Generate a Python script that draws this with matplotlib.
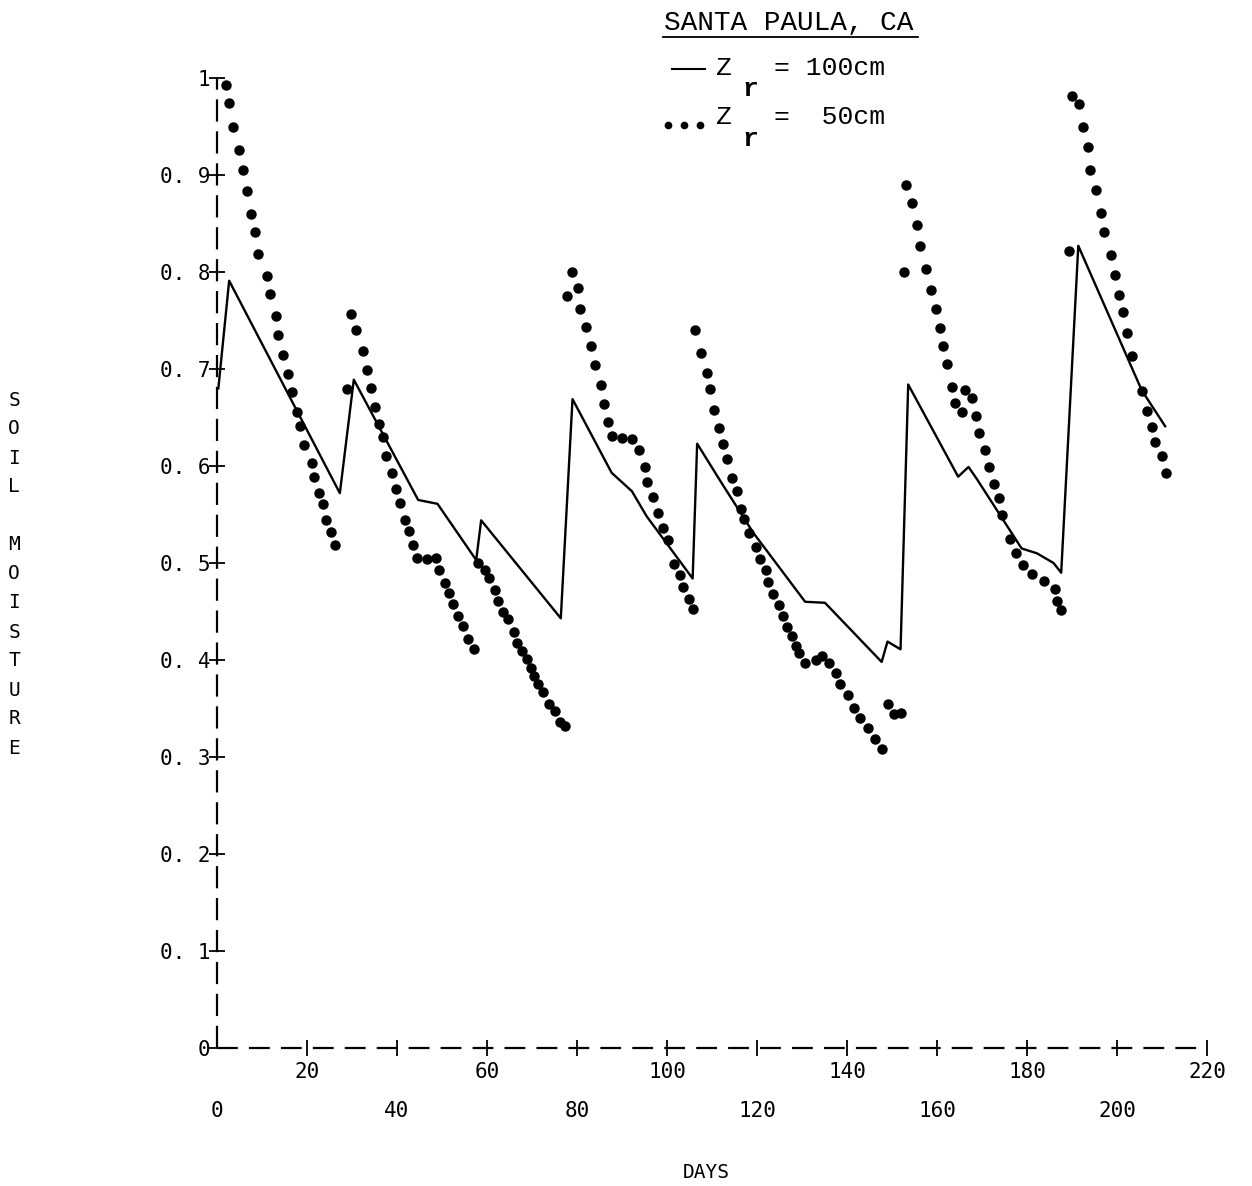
import matplotlib
matplotlib.use("Agg")
import matplotlib.pyplot as plt
from matplotlib.ticker import FixedLocator, FixedFormatter
from matplotlib.lines import Line2D

plt.rcParams['lines.scale_dashes'] = False

# ---------------- data ----------------
# Z_r = 100 cm (solid line)
days_100 = [0.3, 2.7, 27.3, 30.4, 44.7, 49.0, 57.6, 58.7, 76.4, 79.0, 87.7, 92.2,
            95.5, 105.7, 106.7, 112.2, 119.2, 130.7, 135.1, 147.7, 149.0, 151.9,
            153.6, 164.7, 167.0, 168.8, 178.8, 182.2, 185.9, 187.6, 191.4, 205.5, 210.7]
sm_100 = [0.680, 0.791, 0.572, 0.689, 0.565, 0.561, 0.503, 0.544, 0.443, 0.669, 0.593, 0.574,
          0.548, 0.484, 0.623, 0.582, 0.531, 0.460, 0.459, 0.398, 0.419, 0.411,
          0.684, 0.589, 0.599, 0.587, 0.515, 0.510, 0.500, 0.490, 0.827, 0.678, 0.641]

# Z_r = 50 cm (dots)
days_50 = [2.0, 2.7, 3.6, 4.9, 5.8, 6.7, 7.5, 8.5, 9.1, 11.0, 11.8, 13.0, 13.6, 14.7,
           15.8, 16.7, 17.7, 18.4, 19.4, 21.0, 21.6, 22.7, 23.6, 24.2, 25.3, 26.2,
           28.8, 29.8, 30.9, 32.5, 33.4, 34.2, 35.0, 36.0, 36.8, 37.5, 38.8, 39.7, 40.7,
           41.7, 42.6, 43.6, 44.4, 46.6, 48.6, 49.3, 50.7, 51.6, 52.5, 53.6, 54.7, 55.8, 57.1,
           58.1, 59.6, 60.5, 61.8, 62.4, 63.6, 64.7, 66.0, 66.7, 67.8, 68.8, 69.7, 70.4,
           71.3, 72.4, 73.8, 75.2, 76.2, 77.3,
           77.7, 78.8, 80.2, 80.7, 82.0, 83.1, 83.9, 85.3, 86.1, 86.8, 87.7, 89.9, 92.3,
           93.8, 95.0, 95.5, 96.8, 97.9, 99.2, 100.3, 101.6, 102.9, 103.6, 104.9, 105.8,
           106.2, 107.5, 108.8, 109.6, 110.4, 111.6, 112.4, 113.4, 114.5, 115.5, 116.4,
           117.1, 118.3, 119.8, 120.7, 121.9, 122.5, 123.6, 124.8, 125.8, 126.7, 127.8,
           128.6, 129.3, 130.7, 133.1, 134.4, 136.1, 137.6, 138.4, 140.2, 141.6, 142.9,
           144.7, 146.2, 147.8,
           149.0, 150.5, 152.1,
           152.7, 153.1, 154.4, 155.5, 156.2, 157.6, 158.7, 159.8, 160.7, 161.4, 162.3,
           163.3, 164.0, 165.6, 166.2, 167.7, 168.7, 169.4, 170.7, 171.6, 172.7, 173.8,
           174.5, 176.2, 177.6, 179.0, 181.2, 183.8, 186.2, 186.7, 187.5,
           189.4, 190.1, 191.5, 192.5, 193.6, 194.0, 195.3, 196.4, 197.2, 198.6, 199.6,
           200.5, 201.3, 202.3, 203.4, 205.5, 206.6, 207.8, 208.4, 210.1, 210.8]
sm_50 = [0.993, 0.974, 0.950, 0.926, 0.905, 0.884, 0.860, 0.841, 0.819, 0.796, 0.777, 0.755, 0.735, 0.714,
         0.695, 0.676, 0.656, 0.641, 0.622, 0.603, 0.589, 0.572, 0.561, 0.544, 0.532, 0.519,
         0.679, 0.757, 0.740, 0.719, 0.699, 0.680, 0.661, 0.643, 0.630, 0.610, 0.593, 0.576, 0.562,
         0.544, 0.533, 0.519, 0.505, 0.504, 0.505, 0.493, 0.479, 0.469, 0.458, 0.445, 0.435, 0.422, 0.411,
         0.500, 0.493, 0.485, 0.472, 0.461, 0.449, 0.442, 0.429, 0.418, 0.409, 0.401, 0.392, 0.383,
         0.375, 0.367, 0.355, 0.347, 0.336, 0.332,
         0.775, 0.800, 0.784, 0.762, 0.743, 0.724, 0.704, 0.683, 0.664, 0.645, 0.631, 0.629, 0.628,
         0.616, 0.599, 0.583, 0.568, 0.552, 0.536, 0.524, 0.499, 0.488, 0.475, 0.463, 0.453,
         0.740, 0.716, 0.696, 0.679, 0.658, 0.639, 0.623, 0.607, 0.588, 0.574, 0.556,
         0.545, 0.531, 0.516, 0.504, 0.493, 0.480, 0.468, 0.457, 0.445, 0.434, 0.425,
         0.414, 0.407, 0.397, 0.400, 0.404, 0.397, 0.387, 0.375, 0.364, 0.351, 0.340,
         0.330, 0.319, 0.308,
         0.355, 0.344, 0.345,
         0.800, 0.890, 0.871, 0.848, 0.827, 0.803, 0.781, 0.762, 0.742, 0.724, 0.705,
         0.681, 0.665, 0.656, 0.678, 0.670, 0.652, 0.634, 0.617, 0.599, 0.581, 0.567,
         0.550, 0.525, 0.510, 0.498, 0.489, 0.481, 0.473, 0.461, 0.452,
         0.822, 0.981, 0.973, 0.950, 0.929, 0.905, 0.885, 0.861, 0.841, 0.818, 0.797,
         0.776, 0.759, 0.737, 0.713, 0.677, 0.657, 0.640, 0.625, 0.610, 0.593]

ytick_vals = [0.0, 0.1, 0.2, 0.3, 0.4, 0.5, 0.6, 0.7, 0.8, 0.9, 1.0]
ytick_labels = ["0", "0. 1", "0. 2", "0. 3", "0. 4", "0. 5", "0. 6", "0. 7", "0. 8", "0. 9", "1"]
xtick_upper = [20, 60, 100, 140, 180, 220]
xtick_lower = [0, 40, 80, 120, 160, 200]

title = "SANTA PAULA, CA"
legend_vals = ["= 100cm", "=  50cm"]
ylabel_letters = ["S", "O", "I", "L", "", "M", "O", "I", "S", "T", "U", "R", "E"]
xlabel = "DAYS"

# ---------------- figure ----------------
W, H = 1252, 1186
fig = plt.figure(figsize=(W / 100, H / 100), dpi=100)
fig.patch.set_facecolor("white")


def fx(px):
    return px / W


def fy(py):
    return 1 - py / H


ax = fig.add_axes([fx(217), fy(1048), 990 / W, 970 / H])
ax.set_xlim(0, 220)
ax.set_ylim(0, 1)
for s in ax.spines.values():
    s.set_visible(False)

# dashed axes
ax.plot([0, 0], [0, 1], color="k", lw=1.6, ls=(0, (16, 7)), clip_on=False)
ax.plot([0, 220], [0, 0], color="k", lw=1.6, ls=(0, (15, 8)), clip_on=False)

mono = "DejaVu Sans Mono"

ax.yaxis.set_major_locator(FixedLocator(ytick_vals))
ax.yaxis.set_major_formatter(FixedFormatter(ytick_labels))
ax.tick_params(axis="y", direction="inout", length=12, width=1.3, pad=-1,
               labelsize=15)
for lab in ax.get_yticklabels():
    lab.set_fontfamily(mono)

ax.xaxis.set_major_locator(FixedLocator(xtick_upper))
ax.xaxis.set_major_formatter(FixedFormatter([str(v) for v in xtick_upper]))
ax.xaxis.set_minor_locator(FixedLocator(xtick_lower))
ax.xaxis.set_minor_formatter(FixedFormatter([str(v) for v in xtick_lower]))
ax.tick_params(axis="x", which="major", direction="inout", length=12, width=1.3,
               pad=4, labelsize=15)
ax.tick_params(axis="x", which="minor", direction="inout", length=12, width=1.3,
               pad=32, labelsize=15)
for lab in ax.get_xticklabels(which="both"):
    lab.set_fontfamily(mono)
ax.xaxis.get_minor_ticks()[0].tick1line.set_visible(False)

# series
ax.plot(days_100, sm_100, "-", color="k", lw=1.7)
ax.plot(days_50, sm_50, "o", color="k", ms=6.5, ls="none")

# y label (stacked letters)
for i, ch in enumerate(ylabel_letters):
    if ch:
        fig.text(fx(14), fy(400 + i * 29), ch, ha="center", va="center",
                 fontsize=14, family=mono)

fig.text(fx(706), fy(1172), xlabel, ha="center", va="center", fontsize=14, family=mono)

# title & legend
tfont = "Liberation Mono"
fig.text(fx(664), fy(23), title, ha="left", va="center", fontsize=20, family=tfont)
fig.add_artist(Line2D([fx(663), fx(918)], [fy(37), fy(37)], color="k", lw=1.3))

# line 1
fig.add_artist(Line2D([fx(672), fx(705)], [fy(69), fy(69)], color="k", lw=1.5))
fig.text(fx(724), fy(68), "Z", ha="center", va="center", fontsize=19, family=tfont)
fig.text(fx(750), fy(89), "r", ha="center", va="center", fontsize=19, family=tfont,
         weight="bold")
fig.text(fx(774), fy(68), legend_vals[0], ha="left", va="center", fontsize=19, family=tfont)

# line 2
fig.add_artist(Line2D([fx(668), fx(684), fx(700)], [fy(125)] * 3, color="k",
                      ls="none", marker="o", ms=4.5))
fig.text(fx(724), fy(117), "Z", ha="center", va="center", fontsize=19, family=tfont)
fig.text(fx(750), fy(139), "r", ha="center", va="center", fontsize=19, family=tfont,
         weight="bold")
fig.text(fx(774), fy(117), legend_vals[1], ha="left", va="center", fontsize=19, family=tfont)

fig.savefig("out.png", dpi=100, facecolor="white")
